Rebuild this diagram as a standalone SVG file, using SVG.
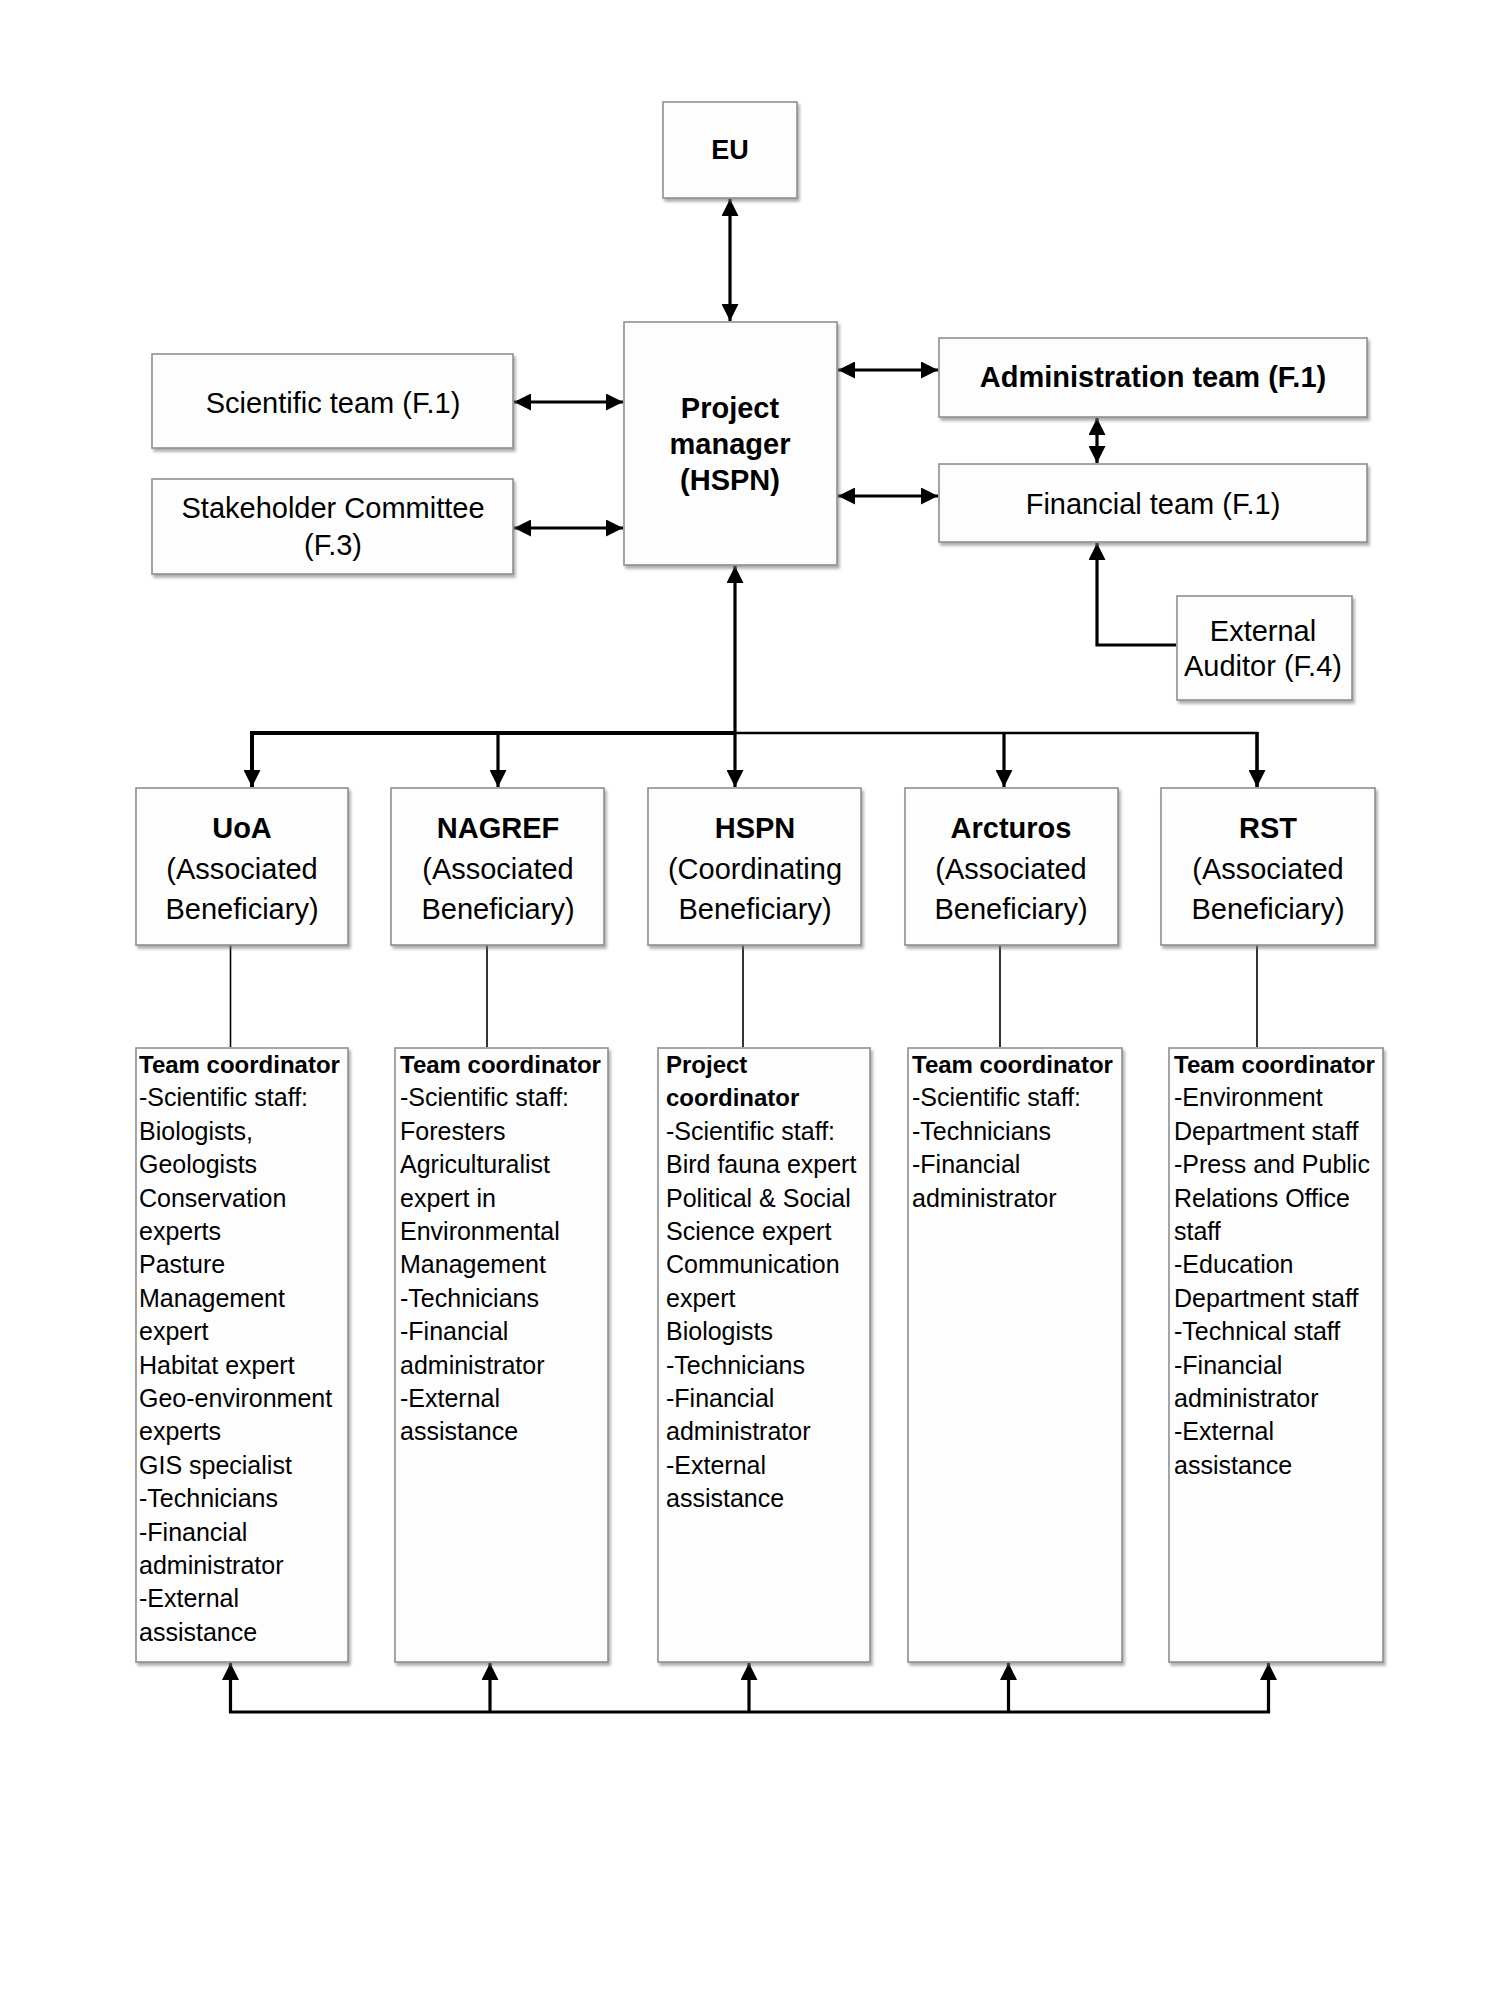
<svg xmlns="http://www.w3.org/2000/svg" width="1501" height="2001" viewBox="0 0 1501 2001">
<style>
  .box { fill: #fdfdfd; stroke: #8f8f8f; stroke-width: 1.6; filter: url(#sh); }
  .t { font-family: "Liberation Sans", Arial, sans-serif; fill: #000; }
  .c { text-anchor: middle; font-size: 29px; }
  .b { font-weight: bold; }
  .s { font-size: 25px; }
  .sb { font-size: 24px; font-weight: bold; }
  .ln { stroke: #000; fill: none; }
  .thick { stroke-width: 3.2; }
  .thin { stroke-width: 1.6; }
</style>
<defs>
  <filter id="sh" x="-10%" y="-10%" width="130%" height="130%">
    <feDropShadow dx="2" dy="3" stdDeviation="1.8" flood-color="#777" flood-opacity="0.6"/>
  </filter>
  <marker id="ah" viewBox="0 0 10 10" refX="10" refY="5" markerWidth="17" markerHeight="17" markerUnits="userSpaceOnUse" orient="auto-start-reverse">
    <path d="M0,0 L10,5 L0,10 z" fill="#000"/>
  </marker>
</defs>
<rect width="1501" height="2001" fill="#ffffff"/>

<g id="connectors">
  <line class="ln thick" x1="730" y1="199" x2="730" y2="321" marker-start="url(#ah)" marker-end="url(#ah)"/>
  <line class="ln thick" x1="514" y1="402" x2="623" y2="402" marker-start="url(#ah)" marker-end="url(#ah)"/>
  <line class="ln thick" x1="514" y1="528" x2="623" y2="528" marker-start="url(#ah)" marker-end="url(#ah)"/>
  <line class="ln thick" x1="838" y1="370" x2="938" y2="370" marker-start="url(#ah)" marker-end="url(#ah)"/>
  <line class="ln thick" x1="838" y1="496" x2="938" y2="496" marker-start="url(#ah)" marker-end="url(#ah)"/>
  <line class="ln thick" x1="1097" y1="418" x2="1097" y2="463" marker-start="url(#ah)" marker-end="url(#ah)"/>
  <polyline class="ln thick" points="1176,645 1097,645 1097,543" marker-end="url(#ah)"/>
  <line class="ln thick" x1="735" y1="566" x2="735" y2="787" marker-start="url(#ah)" marker-end="url(#ah)"/>
  <line class="ln" stroke-width="4" x1="252" y1="733" x2="735" y2="733"/>
  <line class="ln" stroke-width="2.5" x1="735" y1="733" x2="1258" y2="733"/>
  <polyline class="ln" stroke-width="4" points="252,731 252,787" marker-end="url(#ah)"/>
  <line class="ln thick" x1="498" y1="733" x2="498" y2="787" marker-end="url(#ah)"/>
  <line class="ln thick" x1="1004" y1="733" x2="1004" y2="787" marker-end="url(#ah)"/>
  <line class="ln" stroke-width="3.6" x1="1257" y1="732" x2="1257" y2="787" marker-end="url(#ah)"/>
  <line class="ln thin" x1="230.5" y1="945" x2="230.5" y2="1047"/>
  <line class="ln thin" x1="487" y1="945" x2="487" y2="1047"/>
  <line class="ln thin" x1="743" y1="945" x2="743" y2="1047"/>
  <line class="ln thin" x1="1000" y1="945" x2="1000" y2="1047"/>
  <line class="ln thin" x1="1257" y1="945" x2="1257" y2="1047"/>
  <line class="ln thick" x1="229" y1="1712" x2="1270" y2="1712"/>
  <line class="ln thick" x1="230.5" y1="1713" x2="230.5" y2="1663" marker-end="url(#ah)"/>
  <line class="ln thick" x1="490" y1="1713" x2="490" y2="1663" marker-end="url(#ah)"/>
  <line class="ln thick" x1="749" y1="1713" x2="749" y2="1663" marker-end="url(#ah)"/>
  <line class="ln thick" x1="1008.5" y1="1713" x2="1008.5" y2="1663" marker-end="url(#ah)"/>
  <line class="ln thick" x1="1268.5" y1="1713" x2="1268.5" y2="1663" marker-end="url(#ah)"/>
</g>

<g id="eu"><rect class="box" x="663" y="102" width="134" height="96"/>
  <text class="t c b" x="730" y="159" style="font-size:27px">EU</text></g>
<g id="pm"><rect class="box" x="624" y="322" width="213" height="243"/>
  <text class="t c b" x="730" y="418">Project</text>
  <text class="t c b" x="730" y="454">manager</text>
  <text class="t c b" x="730" y="490">(HSPN)</text></g>
<g id="scientific"><rect class="box" x="152" y="354" width="361" height="94"/>
  <text class="t c" x="333" y="413">Scientific team (F.1)</text></g>
<g id="stakeholder"><rect class="box" x="152" y="479" width="361" height="95"/>
  <text class="t c" x="333" y="518">Stakeholder Committee</text>
  <text class="t c" x="333" y="555">(F.3)</text></g>
<g id="admin"><rect class="box" x="939" y="338" width="428" height="79"/>
  <text class="t c b" x="1153" y="387">Administration team (F.1)</text></g>
<g id="financial"><rect class="box" x="939" y="464" width="428" height="78"/>
  <text class="t c" x="1153" y="514">Financial team (F.1)</text></g>
<g id="auditor"><rect class="box" x="1177" y="596" width="175" height="104"/>
  <text class="t c" x="1263" y="641">External</text>
  <text class="t c" x="1263" y="676">Auditor (F.4)</text></g>

<g id="uoa"><rect class="box" x="136" y="788" width="212" height="157"/>
  <text class="t c b" x="242" y="838">UoA</text>
  <text class="t c" x="242" y="879">(Associated</text>
  <text class="t c" x="242" y="919">Beneficiary)</text></g>
<g id="nagref"><rect class="box" x="391" y="788" width="213" height="157"/>
  <text class="t c b" x="498" y="838">NAGREF</text>
  <text class="t c" x="498" y="879">(Associated</text>
  <text class="t c" x="498" y="919">Beneficiary)</text></g>
<g id="hspn"><rect class="box" x="648" y="788" width="213" height="157"/>
  <text class="t c b" x="755" y="838">HSPN</text>
  <text class="t c" x="755" y="879">(Coordinating</text>
  <text class="t c" x="755" y="919">Beneficiary)</text></g>
<g id="arcturos"><rect class="box" x="905" y="788" width="213" height="157"/>
  <text class="t c b" x="1011" y="838">Arcturos</text>
  <text class="t c" x="1011" y="879">(Associated</text>
  <text class="t c" x="1011" y="919">Beneficiary)</text></g>
<g id="rst"><rect class="box" x="1161" y="788" width="214" height="157"/>
  <text class="t c b" x="1268" y="838">RST</text>
  <text class="t c" x="1268" y="879">(Associated</text>
  <text class="t c" x="1268" y="919">Beneficiary)</text></g>

<g id="uoa-staff"><rect class="box" x="136" y="1048" width="212" height="614"/>
  <text class="t s" x="139" y="1073"><tspan class="sb">Team coordinator</tspan><tspan x="139" dy="33.4">-Scientific staff:</tspan><tspan x="139" dy="33.4">Biologists,</tspan><tspan x="139" dy="33.4">Geologists</tspan><tspan x="139" dy="33.4">Conservation</tspan><tspan x="139" dy="33.4">experts</tspan><tspan x="139" dy="33.4">Pasture</tspan><tspan x="139" dy="33.4">Management</tspan><tspan x="139" dy="33.4">expert</tspan><tspan x="139" dy="33.4">Habitat expert</tspan><tspan x="139" dy="33.4">Geo-environment</tspan><tspan x="139" dy="33.4">experts</tspan><tspan x="139" dy="33.4">GIS specialist</tspan><tspan x="139" dy="33.4">-Technicians</tspan><tspan x="139" dy="33.4">-Financial</tspan><tspan x="139" dy="33.4">administrator</tspan><tspan x="139" dy="33.4">-External</tspan><tspan x="139" dy="33.4">assistance</tspan></text></g>
<g id="nagref-staff"><rect class="box" x="395" y="1048" width="213" height="614"/>
  <text class="t s" x="400" y="1073"><tspan class="sb">Team coordinator</tspan><tspan x="400" dy="33.4">-Scientific staff:</tspan><tspan x="400" dy="33.4">Foresters</tspan><tspan x="400" dy="33.4">Agriculturalist</tspan><tspan x="400" dy="33.4">expert in</tspan><tspan x="400" dy="33.4">Environmental</tspan><tspan x="400" dy="33.4">Management</tspan><tspan x="400" dy="33.4">-Technicians</tspan><tspan x="400" dy="33.4">-Financial</tspan><tspan x="400" dy="33.4">administrator</tspan><tspan x="400" dy="33.4">-External</tspan><tspan x="400" dy="33.4">assistance</tspan></text></g>
<g id="hspn-staff"><rect class="box" x="658" y="1048" width="212" height="614"/>
  <text class="t s" x="666" y="1073"><tspan class="sb">Project</tspan><tspan class="sb" x="666" dy="33.4">coordinator</tspan><tspan x="666" dy="33.4">-Scientific staff:</tspan><tspan x="666" dy="33.4">Bird fauna expert</tspan><tspan x="666" dy="33.4">Political &amp; Social</tspan><tspan x="666" dy="33.4">Science expert</tspan><tspan x="666" dy="33.4">Communication</tspan><tspan x="666" dy="33.4">expert</tspan><tspan x="666" dy="33.4">Biologists</tspan><tspan x="666" dy="33.4">-Technicians</tspan><tspan x="666" dy="33.4">-Financial</tspan><tspan x="666" dy="33.4">administrator</tspan><tspan x="666" dy="33.4">-External</tspan><tspan x="666" dy="33.4">assistance</tspan></text></g>
<g id="arcturos-staff"><rect class="box" x="908" y="1048" width="214" height="614"/>
  <text class="t s" x="912" y="1073"><tspan class="sb">Team coordinator</tspan><tspan x="912" dy="33.4">-Scientific staff:</tspan><tspan x="912" dy="33.4">-Technicians</tspan><tspan x="912" dy="33.4">-Financial</tspan><tspan x="912" dy="33.4">administrator</tspan></text></g>
<g id="rst-staff"><rect class="box" x="1169" y="1048" width="214" height="614"/>
  <text class="t s" x="1174" y="1073"><tspan class="sb">Team coordinator</tspan><tspan x="1174" dy="33.4">-Environment</tspan><tspan x="1174" dy="33.4">Department staff</tspan><tspan x="1174" dy="33.4">-Press and Public</tspan><tspan x="1174" dy="33.4">Relations Office</tspan><tspan x="1174" dy="33.4">staff</tspan><tspan x="1174" dy="33.4">-Education</tspan><tspan x="1174" dy="33.4">Department staff</tspan><tspan x="1174" dy="33.4">-Technical staff</tspan><tspan x="1174" dy="33.4">-Financial</tspan><tspan x="1174" dy="33.4">administrator</tspan><tspan x="1174" dy="33.4">-External</tspan><tspan x="1174" dy="33.4">assistance</tspan></text></g>
</svg>
